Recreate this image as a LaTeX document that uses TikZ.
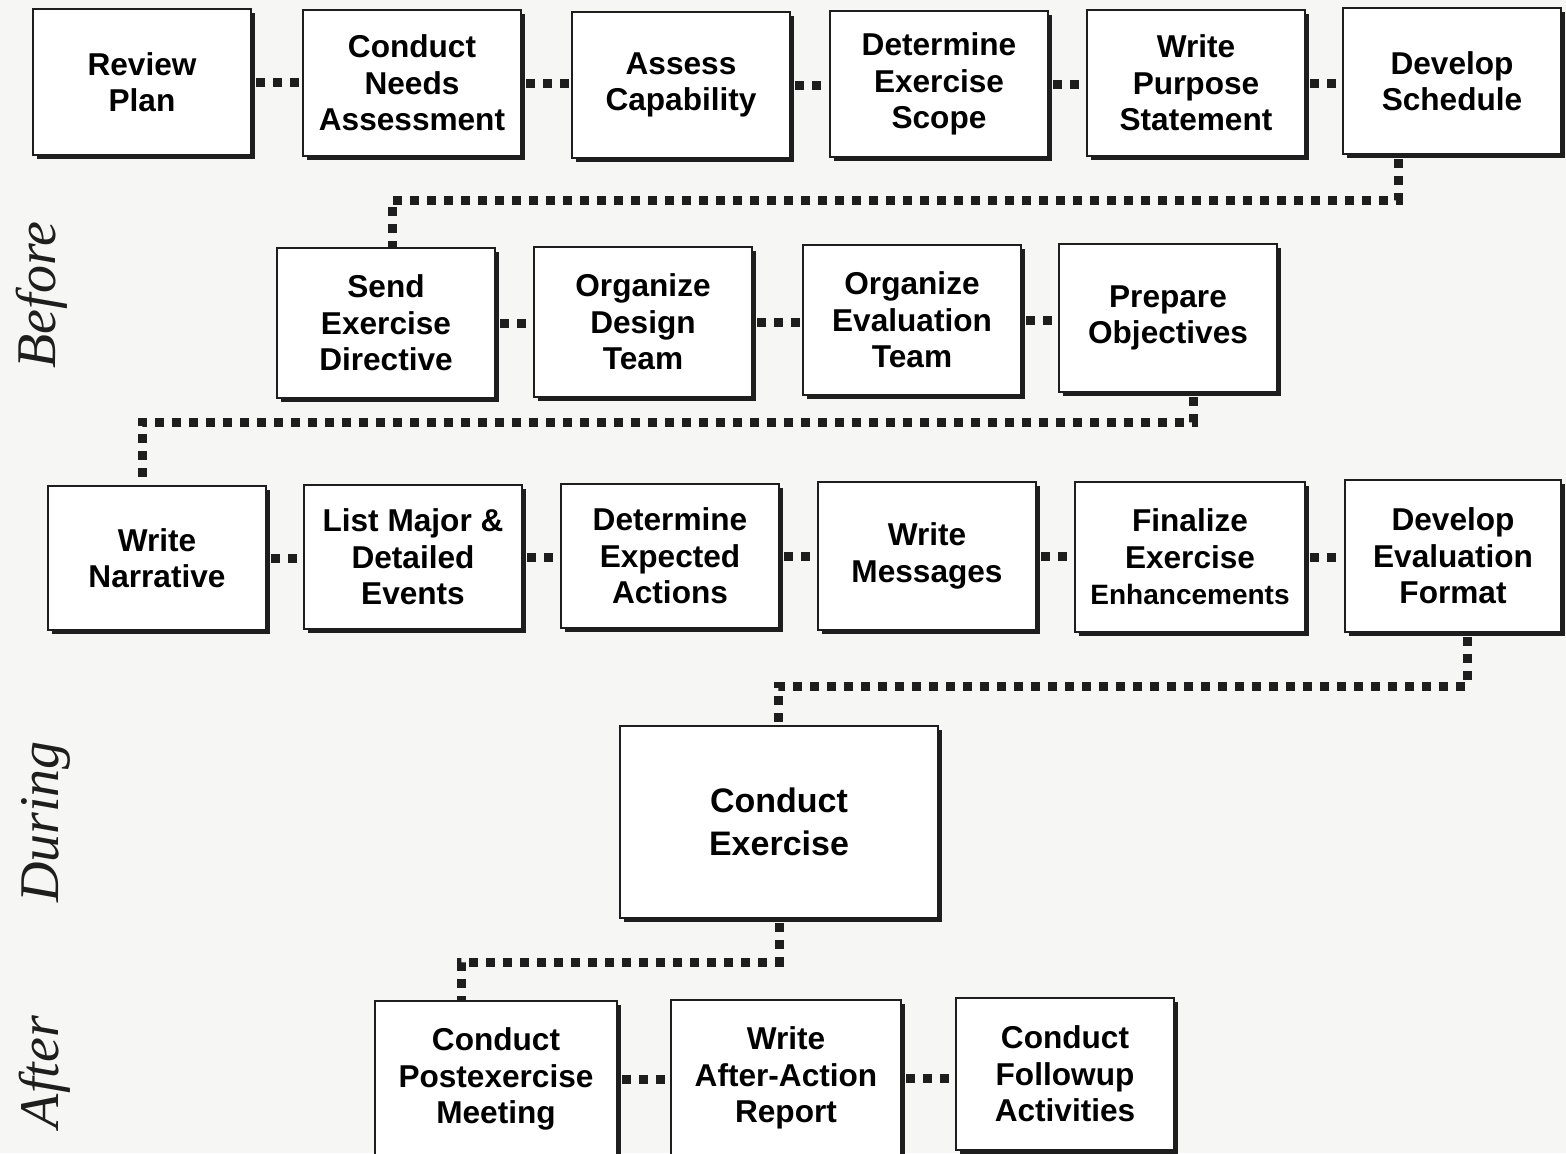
\documentclass[tikz,border=0pt]{standalone}
\usepackage{fontspec}
\setmainfont{Liberation Sans}
\newfontfamily\phasefont{Liberation Serif}
\usetikzlibrary{shadows,calc}
\definecolor{paper}{RGB}{246,246,244}
\definecolor{ink}{RGB}{30,30,30}
\begin{document}
\begin{tikzpicture}[x=0.5pt,y=-0.5pt,
  box/.style={draw=ink, line width=1pt, fill=white, align=center,
    font=\bfseries\fontsize{15.8}{18.3}\selectfont, inner sep=0pt,
    minimum width=109pt, minimum height=73pt,
    drop shadow={shadow xshift=2pt, shadow yshift=-2pt, fill=ink, opacity=1}},
  conn/.style={draw=ink, line width=4.5pt, dash pattern=on 4.5pt off 4pt},
  phase/.style={font=\phasefont\itshape\fontsize{28}{30}\selectfont, rotate=90, text=ink}]
\useasboundingbox (0,0) rectangle (1566,1153);
\fill[paper] (0,0) rectangle (1566,1153);

% phase labels
\node[phase] (lbefore) at (42,295) {Before};
\node[phase] (lduring) at (46,822) {During};
\node[phase] (lafter) at (45,1072) {After};

% row 1
\node[box] (rp)  at (142,82)  {Review\\Plan};
\node[box] (cna) at (412,83)  {Conduct\\Needs\\Assessment};
\node[box] (ac)  at (681,85)  {Assess\\Capability};
\node[box] (des) at (939,84)  {Determine\\Exercise\\Scope};
\node[box] (wps) at (1196,83) {Write\\Purpose\\Statement};
\node[box] (ds)  at (1452,81) {Develop\\Schedule};

% row 2
\node[box, minimum height=75pt] (sed) at (386,323) {Send\\Exercise\\Directive};
\node[box, minimum height=75pt] (odt) at (643,322) {Organize\\Design\\Team};
\node[box, minimum height=75pt] (oet) at (912,320) {Organize\\Evaluation\\Team};
\node[box, minimum height=74pt] (po)  at (1168,318) {Prepare\\Objectives};

% row 3
\node[box, minimum height=72pt] (wn)   at (157,558)  {Write\\Narrative};
\node[box, minimum height=72pt] (lmde) at (413,557)  {List Major \&\\Detailed\\Events};
\node[box, minimum height=72pt] (dea)  at (670,556)  {Determine\\Expected\\Actions};
\node[box, minimum height=74pt] (wm)   at (927,556)  {Write\\Messages};
\node[box, minimum height=75pt, minimum width=115pt] (fee) at (1190,557)
  {Finalize\\Exercise\\{\fontsize{14}{18.3}\selectfont Enhancements}};
\node[box, minimum height=76pt, minimum width=108pt] (def) at (1453,556) {Develop\\Evaluation\\Format};

% row 4
\node[box, minimum width=159pt, minimum height=96pt,
  font=\bfseries\fontsize{17}{21.5}\selectfont] (ce) at (779,822) {Conduct\\Exercise};

% row 5
\node[box, minimum width=121pt, minimum height=78pt] (cpm)  at (496,1079) {Conduct\\Postexercise\\Meeting};
\node[box, minimum width=115pt, minimum height=78pt] (waar) at (786,1078) {Write\\After-Action\\Report};
\node[box, minimum width=109pt, minimum height=76pt] (cfa)  at (1065,1074) {Conduct\\Followup\\Activities};

% short connectors
\foreach \a/\b in {rp/cna, cna/ac, ac/des, des/wps, wps/ds,
                   sed/odt, odt/oet, oet/po,
                   wn/lmde, lmde/dea, dea/wm, wm/fee, fee/def,
                   cpm/waar, waar/cfa}
  \draw[conn] ([xshift=2pt]\a.east) -- (\a.east -| \b.west);

% long connectors
\coordinate (k1a) at (1398,200); \coordinate (k1b) at (392,200);
\draw[conn] ([yshift=-2pt]ds.south -| k1a) -- (k1a) -- (k1b) -- (sed.north -| k1b);
\coordinate (k2a) at (1193,422); \coordinate (k2b) at (142,422);
\draw[conn] ([yshift=-2pt]po.south -| k2a) -- (k2a) -- (k2b) -- (wn.north -| k2b);
\coordinate (k3a) at (1467,686); \coordinate (k3b) at (778,686);
\draw[conn] ([yshift=-2pt]def.south -| k3a) -- (k3a) -- (k3b) -- (ce.north -| k3b);
\coordinate (k4a) at (779,962); \coordinate (k4b) at (461,962);
\draw[conn] ([yshift=-2pt]ce.south -| k4a) -- (k4a) -- (k4b) -- (cpm.north -| k4b);
\end{tikzpicture}
\end{document}
